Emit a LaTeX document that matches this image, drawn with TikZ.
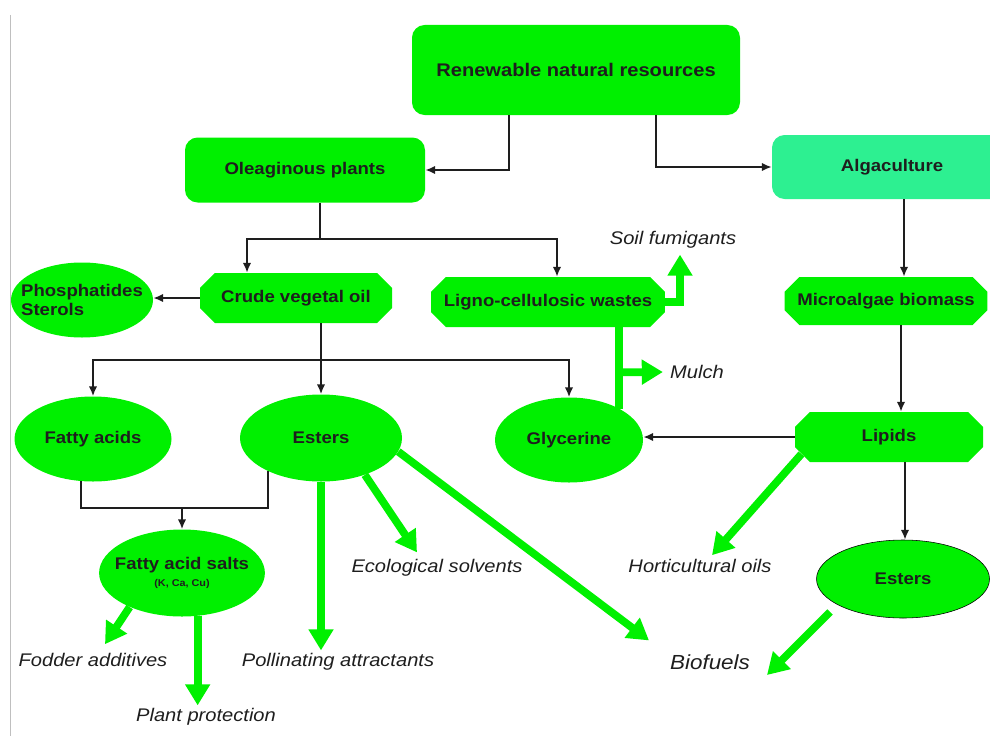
\documentclass[tikz,border=0pt]{standalone}
\usepackage{fontspec}
\setmainfont{Liberation Sans}[FakeStretch=1.1]
\usetikzlibrary{arrows.meta}
\usetikzlibrary{shapes.geometric}
\usetikzlibrary{shapes.misc}
\usetikzlibrary{calc}

\definecolor{leaf}{RGB}{0,240,0}
\definecolor{mint}{RGB}{45,240,145}
\definecolor{ink}{RGB}{30,30,30}
\newlength\pxu
\setlength\pxu{0.025cm}

\tikzset{
  box/.style={rectangle,rounded corners=9pt,fill=leaf,text=ink,font=\fontsize{12}{14}\selectfont\bfseries,inner sep=2pt},
  chamf/.style={chamfered rectangle,chamfered rectangle xsep=7pt,fill=leaf,text=ink,font=\fontsize{12}{14}\selectfont\bfseries,inner sep=2pt},
  blob/.style={ellipse,fill=leaf,text=ink,font=\fontsize{12}{14}\selectfont\bfseries,inner sep=0pt},
  product/.style={text=ink,font=\fontsize{13}{15}\selectfont\itshape,inner sep=2pt},
  conn/.style={draw=ink,line width=1.3pt,-{Latex[length=7pt,width=6pt]}},
  link/.style={draw=ink,line width=1.3pt},
  gline/.style={draw=leaf,line width=5.5pt},
  garrow/.style={gline,-{Triangle[length=15pt,width=17pt]}}
}

\begin{document}
\begin{tikzpicture}[x=0.025cm,y=-0.025cm]
  \useasboundingbox (0,0) rectangle (990,736);
  \draw[black!25] (10,15) -- (10,736);

  % sources
  \node[box,font=\fontsize{13}{15}\selectfont\bfseries,minimum width=328\pxu,minimum height=90\pxu] (res) at (576,70) {Renewable natural resources};
  \node[box,minimum width=240\pxu,minimum height=65\pxu] (olea) at (305,170) {Oleaginous plants};
  \node[box,fill=mint,minimum width=240\pxu,minimum height=64\pxu] (alga) at (892,167) {Algaculture};

  % intermediates
  \node[chamf,minimum width=192\pxu,minimum height=50\pxu] (crude) at (296,298) {Crude vegetal oil};
  \node[blob,align=left,inner xsep=-8pt,minimum width=142\pxu,minimum height=75\pxu] (phos) at (82,300) {Phosphatides\\Sterols};
  \node[chamf,minimum width=213\pxu,minimum height=50\pxu] (ligno) at (548,302) {Ligno-cellulosic wastes};
  \node[chamf,minimum width=191\pxu,minimum height=48\pxu] (micro) at (886,301) {Microalgae biomass};
  \node[blob,minimum width=157\pxu,minimum height=85\pxu] (fatty) at (93,439) {Fatty acids};
  \node[blob,minimum width=162\pxu,minimum height=87\pxu] (esters) at (321,438) {Esters};
  \node[blob,minimum width=148\pxu,minimum height=85\pxu] (glyc) at (569,440) {Glycerine};
  \node[chamf,minimum width=188\pxu,minimum height=50\pxu] (lipids) at (889,437) {Lipids};
  \node[blob,draw=black,thin,minimum width=173\pxu,minimum height=78\pxu] (esters2) at (903,579) {Esters};
  \node[blob,align=center,inner xsep=-6pt,minimum width=159\pxu,minimum height=87\pxu] (salts) at (182,573)
    {Fatty acid salts\\[-2pt]{\fontsize{7}{8}\selectfont(K, Ca, Cu)}};

  % products
  \node[product] (soil) at (673,240) {Soil fumigants};
  \node[product] (mulch) at (697,372) {Mulch};
  \node[product] (ecol) at (437,568) {Ecological solvents};
  \node[product] (hort) at (700,566) {Horticultural oils};
  \node[product] (fodder) at (93,660) {Fodder additives};
  \node[product] (poll) at (338,662) {Pollinating attractants};
  \node[product,font=\fontsize{14.5}{16}\selectfont\itshape] (bio) at (710,662) {Biofuels};
  \node[product] (plant) at (206,717) {Plant protection};

  % black connectors
  \draw[conn] (res.south) ++(-67,0) |- (olea);
  \draw[conn] (res.south) ++(80,0) |- (alga);
  \draw[conn] (olea.south) ++(15,0) -- ++(0,36) -| ($(crude.north)+(-49,0)$);
  \draw[conn] (olea.south) ++(15,0) -- ++(0,36) -| ($(ligno.north)+(9,0)$);
  \draw[conn] (crude.west) -- (crude.west -| phos.east);
  \draw[conn] (crude.south) ++(25,0) -- (esters.north);
  \draw[conn] (crude.south) ++(25,0) -- ++(0,37) -| (fatty.north);
  \draw[conn] (crude.south) ++(25,0) -- ++(0,37) -| (glyc.north);
  \draw[conn] (alga.south) ++(12,0) coordinate (a1) -- (a1 |- micro.north);
  \draw[conn] (micro.south) ++(15,0) coordinate (m1) -- (m1 |- lipids.north);
  \draw[conn] (lipids.west) -- (lipids.west -| glyc.east);
  \draw[conn] (lipids.south) ++(16,0) coordinate (l1) -- (l1 |- esters2.north);
  \draw[link] (fatty.254) -- ++(0,27) -| (esters.212);
  \draw[conn] (salts.north) ++(0,-21) -- (salts.north);

  % green arrows
  \draw[gline] (glyc.32 |- ligno.south) -- (glyc.32);
  \draw[garrow,shorten >=3pt] (glyc.32 |- ligno.south) ++(0,45) -- (mulch.west);
  \draw[garrow] (ligno.east) -| ($(soil.south)+(7,3)$);
  \draw[garrow] (salts.213) -- ($(fodder.north)+(12,-6)$);
  \draw[garrow] (salts.290) coordinate (p1) -- (p1 |- plant.north);
  \draw[garrow] (esters.south) -- (esters.south |- poll.north);
  \draw[garrow] (esters.320) -- ($(ecol.north)+(-20,-4)$);
  \draw[garrow] (esters.350) -- ($(bio.north west)+(-18,-11)$);
  \draw[garrow] (lipids.191) -- ($(hort.north)+(12,-1)$);
  \draw[garrow] ($(esters2.center)+(-73,33)$) -- ($(bio.east)+(14,13)$);
\end{tikzpicture}
\end{document}
